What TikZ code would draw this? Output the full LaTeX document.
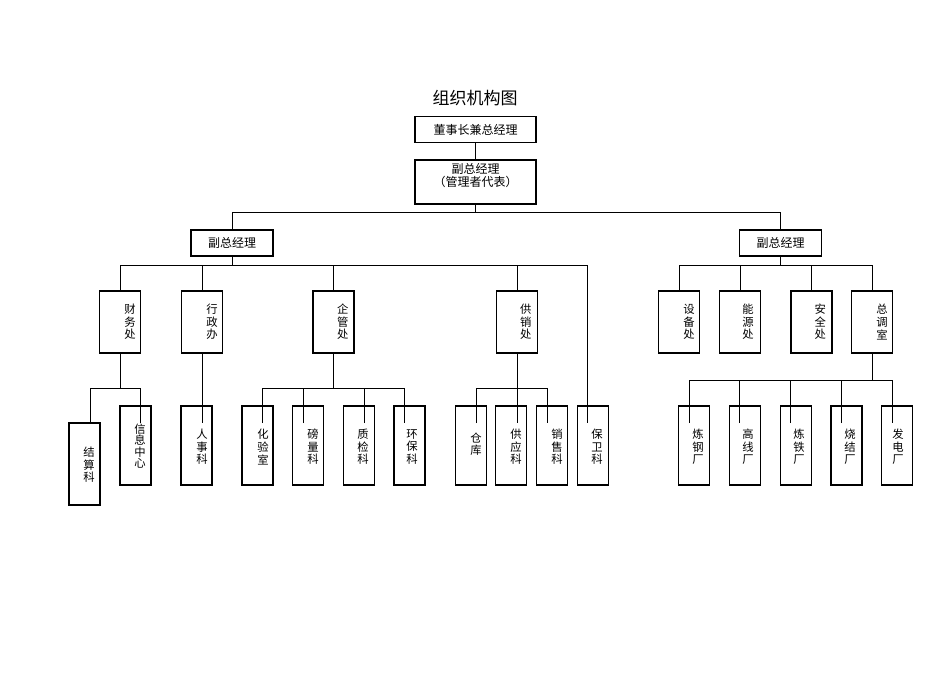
\documentclass[tikz,border=0pt]{standalone}
\usepackage{fontspec}
\setmainfont{Noto Sans CJK SC}
\usetikzlibrary{positioning}

\tikzset{every picture/.style={line width=0.75pt}}
\tikzset{
  box/.style={draw, line width=1pt, inner sep=0pt},
  topbox/.style={box, minimum width=90.75pt, minimum height=19.5pt, font=\fontsize{9}{9.75}\selectfont},
  vpbox/.style={box, minimum width=61.5pt, minimum height=19.5pt, font=\fontsize{9}{9.75}\selectfont},
  deptbox/.style={box, minimum width=30.75pt, minimum height=46.5pt},
  secbox/.style={box, minimum width=23.25pt, minimum height=59.25pt},
  ttext/.style={inner sep=0pt, align=center, font=\fontsize{9}{9.75}\selectfont},
  vtext/.style={inner sep=0pt, align=center, font=\fontsize{8.5}{9.4}\selectfont},
}

\begin{document}
\begin{tikzpicture}[x=0.75pt,y=0.75pt,yscale=-1,xscale=1]
		\useasboundingbox (0,0) rectangle (950,672);
		
		% Title
		\node[font=\fontsize{12.75}{15}\selectfont] (title) at (475,98) {组织机构图};
		
		% Top boxes
		\node[topbox] (dsz) at (475.5,129.5) {董事长兼总经理};
		\node[topbox, minimum height=33pt] (fzj) at (475.5,182) {};
		\node[ttext] (fzj-t) at (475.5,176) {副总经理\\（管理者代表）};
		\node[vpbox] (vpl) at (232,243) {副总经理};
		\node[vpbox] (vpr) at (780.5,243) {副总经理};
		
		% Departments (left)
		\node[deptbox] (cwc) at (120,322) {};
		\node[vtext] at ([xshift=7.5pt]cwc.center) {财\\务\\处};
		\node[deptbox] (xzb) at (202,322) {};
		\node[vtext] at ([xshift=7.5pt]xzb.center) {行\\政\\办};
		\node[deptbox] (qgc) at (333.5,322) {};
		\node[vtext] at ([xshift=7pt]qgc.center) {企\\管\\处};
		\node[deptbox] (gxc) at (517,322) {};
		\node[vtext] at ([xshift=6.5pt]gxc.center) {供\\销\\处};
		
		% Departments (right)
		\node[deptbox] (sbc) at (679,322) {};
		\node[vtext] at ([xshift=7.5pt]sbc.center) {设\\备\\处};
		\node[deptbox] (nyc) at (740,322) {};
		\node[vtext] at ([xshift=6pt]nyc.center) {能\\源\\处};
		\node[deptbox] (aqc) at (811.5,322) {};
		\node[vtext] at ([xshift=6.5pt]aqc.center) {安\\全\\处};
		\node[deptbox] (zds) at (872,322) {};
		\node[vtext] at ([xshift=7.5pt]zds.center) {总\\调\\室};
		
		% Sections
		\node[secbox, minimum height=61.5pt] (jsk) at (84.5,464) {};
		\node[vtext] at (89,465) {结\\算\\科};
		\node[secbox] (xxz) at (135.5,445.5) {};
		\node[vtext, font=\fontsize{8.5}{8.6}\selectfont] at (140,446) {信\\息\\中\\心};
		\node[secbox] (rsk) at (196.5,445.5) {};
		\node[vtext] at (202,447) {人\\事\\科};
		\node[secbox] (hys) at (257.5,445.5) {};
		\node[vtext] at (263,447) {化\\验\\室};
		\node[secbox] (blk) at (308,445.5) {};
		\node[vtext] at (313,447) {磅\\量\\科};
		\node[secbox] (zjk) at (359,445.5) {};
		\node[vtext] at (363,447) {质\\检\\科};
		\node[secbox] (hbk) at (409.5,445.5) {};
		\node[vtext] at (412,447) {环\\保\\科};
		\node[secbox] (ck) at (471,445.5) {};
		\node[vtext] at (476,444) {仓\\库};
		\node[secbox] (gyk) at (511,445.5) {};
		\node[vtext] at (516,447) {供\\应\\科};
		\node[secbox] (xsk) at (552,445.5) {};
		\node[vtext] at (557,447) {销\\售\\科};
		\node[secbox] (bwk) at (593,445.5) {};
		\node[vtext] at (597,447) {保\\卫\\科};
		\node[secbox] (lgf) at (694,445.5) {};
		\node[vtext] at (698,447) {炼\\钢\\厂};
		\node[secbox] (gxf) at (745,445.5) {};
		\node[vtext] at (748,447) {高\\线\\厂};
		\node[secbox] (ltf) at (796,445.5) {};
		\node[vtext] at (799,447) {炼\\铁\\厂};
		\node[secbox] (sjf) at (846.5,445.5) {};
		\node[vtext] at (850,447) {烧\\结\\厂};
		\node[secbox] (fdf) at (897,445.5) {};
		\node[vtext] at (898,447) {发\\电\\厂};
		
		% Line ends inside the section boxes
		\coordinate (jsk-in) at (90,423);
		\coordinate (xxz-in) at (140,423);
		\coordinate (rsk-in) at (202,423);
		\coordinate (hys-in) at (262,423);
		\coordinate (blk-in) at (303,423);
		\coordinate (zjk-in) at (364,423);
		\coordinate (hbk-in) at (404,423);
		\coordinate (ck-in) at (476,423);
		\coordinate (gyk-in) at (517,423);
		\coordinate (xsk-in) at (547,423);
		\coordinate (bwk-in) at (587,423);
		\coordinate (lgf-in) at (689,423);
		\coordinate (gxf-in) at (739,423);
		\coordinate (ltf-in) at (790,423);
		\coordinate (sjf-in) at (841,423);
		\coordinate (fdf-in) at (892,423);
		
		% Upper connectors
		\draw (dsz) -- (fzj);
		\draw (fzj.south) -- ++(0,8) coordinate (topbus);
		\draw (vpl.north) |- (topbus) -| (vpr.north);
		
		\draw (vpl.south) -- ++(0,9) coordinate (lbus);
		\draw (cwc.north) |- (lbus) -| (bwk-in);
		\foreach \n in {xzb,qgc,gxc}
			\draw (\n.north) -- (\n.north |- lbus);
		
		\draw (vpr.south) -- ++(0,9) coordinate (rbus);
		\draw (sbc.north) |- (rbus) -| (zds.north);
		\foreach \n in {nyc,aqc}
			\draw (\n.north) -- (\n.north |- rbus);
		
		% Lower connectors
		\draw (cwc.south) -- ++(0,35) coordinate (cwb);
		\draw (jsk-in) |- (cwb) -| (xxz-in);
		
		\draw (xzb.south) -- (rsk-in);
		
		\draw (qgc.south) -- ++(0,35) coordinate (qgb);
		\draw (hys-in) |- (qgb) -| (hbk-in);
		\foreach \n in {blk,zjk}
			\draw (\n-in) -- (\n-in |- qgb);
		
		\draw (gxc.south) -- (gyk-in);
		\coordinate (gxb) at (gxc.south |- qgb);
		\draw (ck-in) |- (gxb) -| (xsk-in);
		
		\draw (zds.south) -- ++(0,27) coordinate (zdb);
		\draw (lgf-in) |- (zdb) -| (fdf-in);
		\foreach \n in {gxf,ltf,sjf}
			\draw (\n-in) -- (\n-in |- zdb);
		
\end{tikzpicture}
\end{document}
